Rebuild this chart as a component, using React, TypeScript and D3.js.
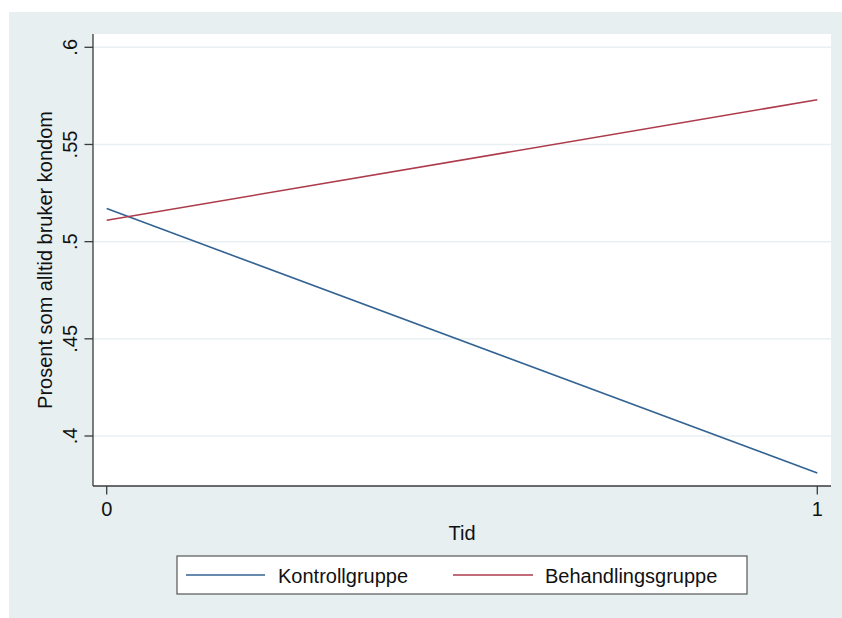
import React from "react";
import * as d3 from "d3";

const times = [0, 1];
const kontroll = [0.517, 0.381];
const behandling = [0.511, 0.573];
const yTicks = [0.4, 0.45, 0.5, 0.55, 0.6];
const yTickLabels = [".4", ".45", ".5", ".55", ".6"];
const xTicks = [0, 1];
const xTickLabels = ["0", "1"];
const seriesNames = ["Kontrollgruppe", "Behandlingsgruppe"];
const seriesColors = ["#336393", "#ad3b4b"];

const W = 842;
const H = 618;
const FONT = "'Liberation Sans', Arial, Helvetica, sans-serif";

export default function App() {
  const plot = { left: 93, right: 831, top: 34, bottom: 486 };
  const x = d3.scaleLinear().domain([0, 1]).range([106.7, 817.3]);
  const y = d3.scaleLinear().domain([0.4, 0.6]).range([436, 47.3]);
  const line = d3
    .line<[number, number]>()
    .x((d) => x(d[0]))
    .y((d) => y(d[1]));
  const series = [kontroll, behandling].map((vals) =>
    times.map((t, i) => [t, vals[i]] as [number, number])
  );

  const legend = { x: 177, y: 556, w: 570, h: 38 };
  const legendItems = [
    { lx1: 186, lx2: 265, tx: 278 },
    { lx1: 453, lx2: 533, tx: 545 },
  ];

  return (
    <svg
      width={W}
      height={H}
      style={{ position: "absolute", left: 0, top: 0 }}
      fontFamily={FONT}
    >
      <rect x={0} y={0} width={W} height={H} fill="#ffffff" />
      <rect x={9} y={12} width={W - 9} height={H - 12} fill="#e7eff1" />
      <rect
        x={plot.left}
        y={plot.top}
        width={plot.right - plot.left}
        height={plot.bottom - plot.top}
        fill="#ffffff"
      />
      {yTicks.map((t) => (
        <line
          key={"g" + t}
          x1={plot.left}
          x2={plot.right}
          y1={y(t)}
          y2={y(t)}
          stroke="#e8f0f2"
          strokeWidth={1.5}
        />
      ))}
      {series.map((s, i) => (
        <path
          key={"s" + i}
          d={line(s) || ""}
          fill="none"
          stroke={seriesColors[i]}
          strokeWidth={1.6}
        />
      ))}
      {/* y axis */}
      <line x1={plot.left} x2={plot.left} y1={plot.top} y2={plot.bottom} stroke="#3a3a3a" strokeWidth={1.3} />
      {yTicks.map((t, i) => (
        <g key={"yt" + t}>
          <line x1={plot.left - 8.5} x2={plot.left} y1={y(t)} y2={y(t)} stroke="#3a3a3a" strokeWidth={1.3} />
          <text
            transform={`translate(77,${y(t)}) rotate(-90)`}
            textAnchor="middle"
            fontSize={20}
            fill="#111"
          >
            {yTickLabels[i]}
          </text>
        </g>
      ))}
      <text
        transform={`translate(51.5,260) rotate(-90)`}
        textAnchor="middle"
        fontSize={20}
        fill="#111"
      >
        Prosent som alltid bruker kondom
      </text>
      {/* x axis */}
      <line x1={plot.left} x2={plot.right} y1={plot.bottom} y2={plot.bottom} stroke="#3a3a3a" strokeWidth={1.3} />
      {xTicks.map((t, i) => (
        <g key={"xt" + t}>
          <line x1={x(t)} x2={x(t)} y1={plot.bottom} y2={plot.bottom + 8.5} stroke="#3a3a3a" strokeWidth={1.3} />
          <text x={x(t)} y={516} textAnchor="middle" fontSize={20} fill="#111">
            {xTickLabels[i]}
          </text>
        </g>
      ))}
      <text x={x(0.5)} y={540} textAnchor="middle" fontSize={20} fill="#111">
        Tid
      </text>
      {/* legend */}
      <rect
        x={legend.x}
        y={legend.y}
        width={legend.w}
        height={legend.h}
        fill="#ffffff"
        stroke="#555"
        strokeWidth={1.2}
      />
      {legendItems.map((it, i) => (
        <g key={"l" + i}>
          <line
            x1={it.lx1}
            x2={it.lx2}
            y1={575}
            y2={575}
            stroke={seriesColors[i]}
            strokeWidth={1.6}
          />
          <text x={it.tx} y={583} fontSize={20} fill="#111">
            {seriesNames[i]}
          </text>
        </g>
      ))}
    </svg>
  );
}
